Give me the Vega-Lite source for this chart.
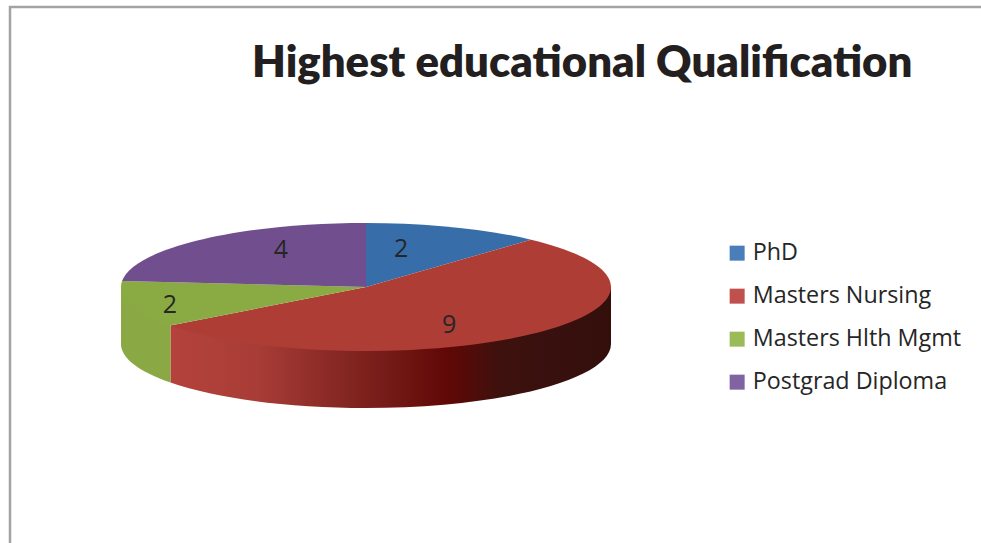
{
  "$schema": "https://vega.github.io/schema/vega-lite/v6.json",
  "width": 973,
  "height": 538,
  "autosize": "none",
  "padding": {"left": 10, "top": 7, "right": 0, "bottom": 0},
  "background": "white",
  "view": {"stroke": "#a3a3a3", "strokeWidth": 2.5, "fill": "white"},
  "title": {
    "text": "Highest educational Qualification",
    "anchor": "start",
    "frame": "group",
    "font": "Lato",
    "fontWeight": 800,
    "fontSize": 43.7,
    "color": "#231f20",
    "baseline": "alphabetic",
    "offset": 0,
    "dx": 242,
    "dy": 114
  },
  "data": {
    "values": [
      {"qualification": "PhD", "count": 2},
      {"qualification": "Masters Nursing", "count": 9},
      {"qualification": "Masters Hlth Mgmt", "count": 2},
      {"qualification": "Postgrad Diploma", "count": 4}
    ]
  },
  "transform": [
    {"joinaggregate": [{"op": "sum", "field": "count", "as": "total"}]},
    {"window": [{"op": "row_number", "as": "order"}]},
    {"stack": "count", "sort": [{"field": "order"}], "as": ["c0", "c1"]},
    {"calculate": "2 * PI * datum.c0 / datum.total", "as": "a0"},
    {"calculate": "2 * PI * datum.c1 / datum.total", "as": "a1"},
    {"calculate": "max(datum.a0, PI / 2)", "as": "w0"},
    {"calculate": "min(datum.a1, 3 * PI / 2)", "as": "w1"},
    {"calculate": "'M0,0L' + 245 * sin(datum.a0) + ',' + (-64 * cos(datum.a0)) + 'A245,64 0 ' + (datum.a1 - datum.a0 > PI ? 1 : 0) + ' 1 ' + 245 * sin(datum.a1) + ',' + (-64 * cos(datum.a1)) + 'Z'", "as": "topFace"},
    {"calculate": "'M' + 245 * sin(datum.w0) + ',' + (-64 * cos(datum.w0)) + 'L' + 245 * sin(datum.w1) + ',' + (-64 * cos(datum.w1)) + 'L' + 245 * sin(datum.w1) + ',' + (57 - 64 * cos(datum.w1)) + 'A245,64 0 0 0 ' + 245 * sin(datum.w0) + ',' + (57 - 64 * cos(datum.w0)) + 'Z'", "as": "sideWall"},
    {"calculate": "datum.qualification === 'PhD' ? 0.143 : datum.qualification === 'Masters Nursing' ? 0.339 : datum.qualification === 'Masters Hlth Mgmt' ? -0.8 : -0.347", "as": "labelX"},
    {"calculate": "datum.qualification === 'PhD' ? -0.59 : datum.qualification === 'Masters Nursing' ? 0.59 : datum.qualification === 'Masters Hlth Mgmt' ? 0.28 : -0.58", "as": "labelY"}
  ],
  "layer": [
    {
      "description": "Outer wall of the nursing slice, shaded from lit to dark",
      "transform": [{"filter": "datum.qualification === 'Masters Nursing'"}],
      "mark": {
        "type": "point", "filled": true, "size": 4, "opacity": 1, "strokeWidth": 0,
        "fill": {
          "gradient": "linear", "x1": 0, "x2": 1, "y1": 0, "y2": 0,
          "stops": [
            {"offset": 0, "color": "#b5423c"},
            {"offset": 0.2, "color": "#a83c36"},
            {"offset": 0.36, "color": "#8a2a26"},
            {"offset": 0.5, "color": "#741a16"},
            {"offset": 0.63, "color": "#600806"},
            {"offset": 0.75, "color": "#3d110e"},
            {"offset": 1, "color": "#330f0c"}
          ]
        }
      },
      "encoding": {
        "x": {"datum": 0, "type": "quantitative", "axis": null, "scale": {"domain": [-1.45306, 2.51837], "nice": false, "zero": false}},
        "y": {"datum": 0, "type": "quantitative", "axis": null, "scale": {"domain": [-4.375, 4.03125], "nice": false, "zero": false, "reverse": true}},
        "shape": {"field": "sideWall", "type": "nominal", "scale": null, "legend": null}
      }
    },
    {
      "description": "Outer wall of the health management slice",
      "transform": [{"filter": "datum.qualification === 'Masters Hlth Mgmt'"}],
      "mark": {"type": "point", "filled": true, "size": 4, "opacity": 1, "strokeWidth": 0, "fill": "#8aa944"},
      "encoding": {
        "x": {"datum": 0, "type": "quantitative", "axis": null},
        "y": {"datum": 0, "type": "quantitative", "axis": null},
        "shape": {"field": "sideWall", "type": "nominal", "scale": null, "legend": null}
      }
    },
    {
      "description": "Top faces of the slices",
      "mark": {"type": "point", "filled": true, "size": 4, "opacity": 1, "strokeWidth": 0},
      "encoding": {
        "x": {"datum": 0, "type": "quantitative", "axis": null},
        "y": {"datum": 0, "type": "quantitative", "axis": null},
        "shape": {"field": "topFace", "type": "nominal", "scale": null, "legend": null},
        "fill": {
          "field": "qualification", "type": "nominal", "legend": null,
          "scale": {
            "domain": ["Postgrad Diploma", "Masters Hlth Mgmt", "Masters Nursing", "PhD"],
            "range": ["#714f8e", "#8aab43", "#ae3d36", "#376eaa"]
          }
        }
      }
    },
    {
      "description": "Zero-size squares that carry the legend swatches",
      "mark": {"type": "square", "size": 0, "opacity": 1},
      "encoding": {
        "x": {"datum": 0, "type": "quantitative", "axis": null},
        "y": {"datum": 0, "type": "quantitative", "axis": null},
        "color": {
          "field": "qualification", "type": "nominal",
          "scale": {
            "domain": ["PhD", "Masters Nursing", "Masters Hlth Mgmt", "Postgrad Diploma"],
            "range": ["#4a7ebb", "#c0504d", "#9bbb59", "#8064a2"]
          },
          "legend": {
            "title": null,
            "orient": "none",
            "legendX": 715.5,
            "legendY": 234.5,
            "symbolType": "square",
            "symbolSize": 225,
            "symbolStrokeWidth": 0,
            "symbolOpacity": 1,
            "labelFont": "Open Sans",
            "labelFontSize": 23.3,
            "labelColor": "#262626",
            "labelOffset": 4,
            "labelLimit": 300,
            "rowPadding": 19,
            "padding": 0
          }
        }
      }
    },
    {
      "description": "Slice value labels",
      "mark": {"type": "text", "font": "Open Sans", "fontSize": 25, "color": "#262626", "baseline": "middle", "align": "center"},
      "encoding": {
        "x": {"field": "labelX", "type": "quantitative", "axis": null},
        "y": {"field": "labelY", "type": "quantitative", "axis": null},
        "text": {"field": "count", "type": "quantitative"}
      }
    }
  ]
}
